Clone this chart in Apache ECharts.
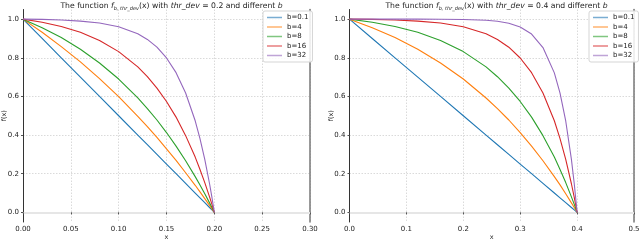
<!DOCTYPE html>
<html><head><meta charset="utf-8">
<script src="https://cdn.jsdelivr.net/npm/echarts@6/dist/echarts.min.js"></script>
<style>html,body{margin:0;padding:0;background:#fff}#c{width:640px;height:241px}</style>
</head><body><div id="c"></div>
<script>
// categories / legend
const bNames = ['b=0.1', 'b=4', 'b=8', 'b=16', 'b=32'];
const colors = ['#1f77b4', '#ff7f0e', '#2ca02c', '#d62728', '#9467bd'];
// x sample positions
const xLeft  = [0, 0.02, 0.04, 0.06, 0.08, 0.10, 0.12, 0.13, 0.14, 0.15, 0.16, 0.17, 0.18, 0.185, 0.19, 0.195, 0.1975, 0.2];
const xRight = [0, 0.04, 0.08, 0.12, 0.16, 0.20, 0.24, 0.26, 0.28, 0.30, 0.32, 0.34, 0.36, 0.37, 0.38, 0.39, 0.395, 0.4];
// left panel (thr_dev = 0.2)
const leftB01 = [1, 0.9, 0.8, 0.7, 0.6, 0.5, 0.4, 0.35, 0.3, 0.25, 0.2, 0.15, 0.1, 0.075, 0.05, 0.025, 0.0125, 0];
const leftB4  = [1, 0.932, 0.858, 0.779, 0.692, 0.599, 0.497, 0.444, 0.388, 0.329, 0.269, 0.205, 0.140, 0.106, 0.071, 0.036, 0.018, 0];
const leftB8  = [1, 0.956, 0.905, 0.844, 0.773, 0.690, 0.592, 0.537, 0.478, 0.413, 0.343, 0.267, 0.185, 0.142, 0.096, 0.049, 0.025, 0];
const leftB16 = [1, 0.984, 0.962, 0.932, 0.890, 0.832, 0.753, 0.702, 0.643, 0.574, 0.493, 0.397, 0.286, 0.222, 0.154, 0.080, 0.041, 0];
const leftB32 = [1, 0.999, 0.996, 0.990, 0.980, 0.961, 0.924, 0.895, 0.855, 0.799, 0.723, 0.618, 0.474, 0.382, 0.274, 0.148, 0.077, 0];
// right panel (thr_dev = 0.4)
const rightB01 = [1, 0.9, 0.8, 0.7, 0.6, 0.5, 0.4, 0.35, 0.3, 0.25, 0.2, 0.15, 0.1, 0.075, 0.05, 0.025, 0.0125, 0];
const rightB4  = [1, 0.956, 0.905, 0.844, 0.773, 0.690, 0.592, 0.537, 0.478, 0.413, 0.343, 0.267, 0.185, 0.142, 0.096, 0.049, 0.025, 0];
const rightB8  = [1, 0.984, 0.962, 0.932, 0.890, 0.832, 0.753, 0.702, 0.643, 0.574, 0.493, 0.397, 0.286, 0.222, 0.154, 0.080, 0.041, 0];
const rightB16 = [1, 0.999, 0.996, 0.990, 0.980, 0.961, 0.924, 0.895, 0.855, 0.799, 0.723, 0.618, 0.474, 0.382, 0.274, 0.148, 0.077, 0];
const rightB32 = [1, 1, 1, 1, 0.9995, 0.998, 0.994, 0.989, 0.979, 0.959, 0.923, 0.853, 0.722, 0.617, 0.473, 0.274, 0.148, 0];
// tick labels
const yTicks = [0, 0.2, 0.4, 0.6, 0.8, 1.0];
const xTicksLeft = [0, 0.05, 0.10, 0.15, 0.20, 0.25, 0.30];
const xTicksRight = [0, 0.1, 0.2, 0.3, 0.4, 0.5];

const leftVals = [leftB01, leftB4, leftB8, leftB16, leftB32];
const rightVals = [rightB01, rightB4, rightB8, rightB16, rightB32];

const FONT = 'DejaVu Sans';
const txt = '#222';
const grids = [
  {left: 23, top: 9.5, width: 287, height: 212.5, outerBoundsMode: 'none', containLabel: false},
  {left: 349.5, top: 9.5, width: 284.5, height: 212.5, outerBoundsMode: 'none', containLabel: false}
];

function xAxis(idx, max, interval, digits, ticks) {
  return {
    type: 'value', gridIndex: idx, min: 0, max: max, interval: interval,
    name: 'x', nameLocation: 'middle', nameGap: 12, nameMoveOverlap: false,
    nameTextStyle: {fontFamily: FONT, fontSize: 6.5, color: txt},
    axisLine: {show: true, lineStyle: {color: '#e6e6e6', width: 2}},
    axisTick: {show: true, length: 2, lineStyle: {color: '#555'}},
    axisLabel: {fontFamily: FONT, fontSize: 7, color: txt, margin: 4,
      formatter: v => v.toFixed(digits)},
    splitLine: {show: true, lineStyle: {color: '#d0d0d0', type: [1.5, 1.5], width: 0.8}}
  };
}
function yAxis(idx) {
  return {
    type: 'value', gridIndex: idx, min: -0.05, max: 1.05,
    name: 'f(x)', nameLocation: 'middle', nameGap: 15, nameRotate: 90, nameMoveOverlap: false,
    nameTextStyle: {fontFamily: FONT, fontSize: 6.5, color: txt},
    axisLine: {show: true, lineStyle: {color: '#333', width: 1}},
    axisTick: {show: true, length: 2, customValues: yTicks, lineStyle: {color: '#555'}},
    axisLabel: {fontFamily: FONT, fontSize: 7, color: txt, margin: 4,
      customValues: yTicks, formatter: v => v.toFixed(1)},
    splitLine: {show: true, lineStyle: {color: '#d0d0d0', type: [1.5, 1.5], width: 0.8}}
  };
}
// right-side spines of each axes
function rightSpine(idx) {
  return {
    type: 'value', gridIndex: idx, position: 'right', min: -0.05, max: 1.05,
    axisLine: {show: true, lineStyle: {color: '#777', width: 1.5}},
    axisTick: {show: false}, axisLabel: {show: false}, splitLine: {show: false}
  };
}

const series = [];
bNames.forEach((n, i) => {
  series.push({
    type: 'line', name: n, xAxisIndex: 0, yAxisIndex: 0,
    data: xLeft.map((x, j) => [x, leftVals[i][j]]),
    showSymbol: false, smooth: false,
    lineStyle: {width: 1.1, color: colors[i]}, itemStyle: {color: colors[i]}
  });
  series.push({
    type: 'line', name: n, xAxisIndex: 1, yAxisIndex: 1,
    data: xRight.map((x, j) => [x, rightVals[i][j]]),
    showSymbol: false, smooth: false,
    lineStyle: {width: 1.1, color: colors[i]}, itemStyle: {color: colors[i]}
  });
});

function title(thr, centerX) {
  return {
    text: '{n|The function }{i|f}{s|b, thr_dev}{n|(x) with }{i|thr_dev}{n| = ' + thr + ' and different }{i|b}',
    left: centerX, top: -3, textAlign: 'center',
    textStyle: {
      fontWeight: 'normal',
      rich: {
        n: {fontFamily: FONT, fontSize: 7.7, fontWeight: 'normal', color: txt},
        i: {fontFamily: FONT, fontSize: 7.7, fontWeight: 'normal', fontStyle: 'italic', color: txt},
        s: {fontFamily: FONT, fontSize: 5, fontWeight: 'normal', fontStyle: 'italic', color: txt, verticalAlign: 'bottom', padding: [4, 0, 0, 0]}
      }
    }
  };
}

function legend(left, top) {
  return {
    data: bNames, left: left, top: top, orient: 'vertical',
    icon: 'rect', itemWidth: 15, itemHeight: 1.5, itemGap: 2.5,
    backgroundColor: 'rgba(255,255,255,0.85)', borderColor: '#d5d5d5', borderWidth: 1, borderRadius: 2,
    padding: [3, 4, 3, 4],
    textStyle: {fontFamily: FONT, fontSize: 7, color: txt, padding: [0, 0, 0, 0]},
    itemStyle: {opacity: 0.6}, selectedMode: false
  };
}

const chart = echarts.init(document.getElementById('c'), null, {renderer: 'canvas'});
chart.setOption({
  animation: false,
  backgroundColor: '#fff',
  color: colors,
  title: [title('0.2', 166.5), title('0.4', 491.5)],
  legend: [legend(263, 11), legend(589, 11)],
  grid: grids,
  xAxis: [xAxis(0, 0.3, 0.05, 2, xTicksLeft), xAxis(1, 0.5, 0.1, 1, xTicksRight)],
  yAxis: [yAxis(0), yAxis(1), rightSpine(0), rightSpine(1)],
  series: series
});
</script></body></html>
